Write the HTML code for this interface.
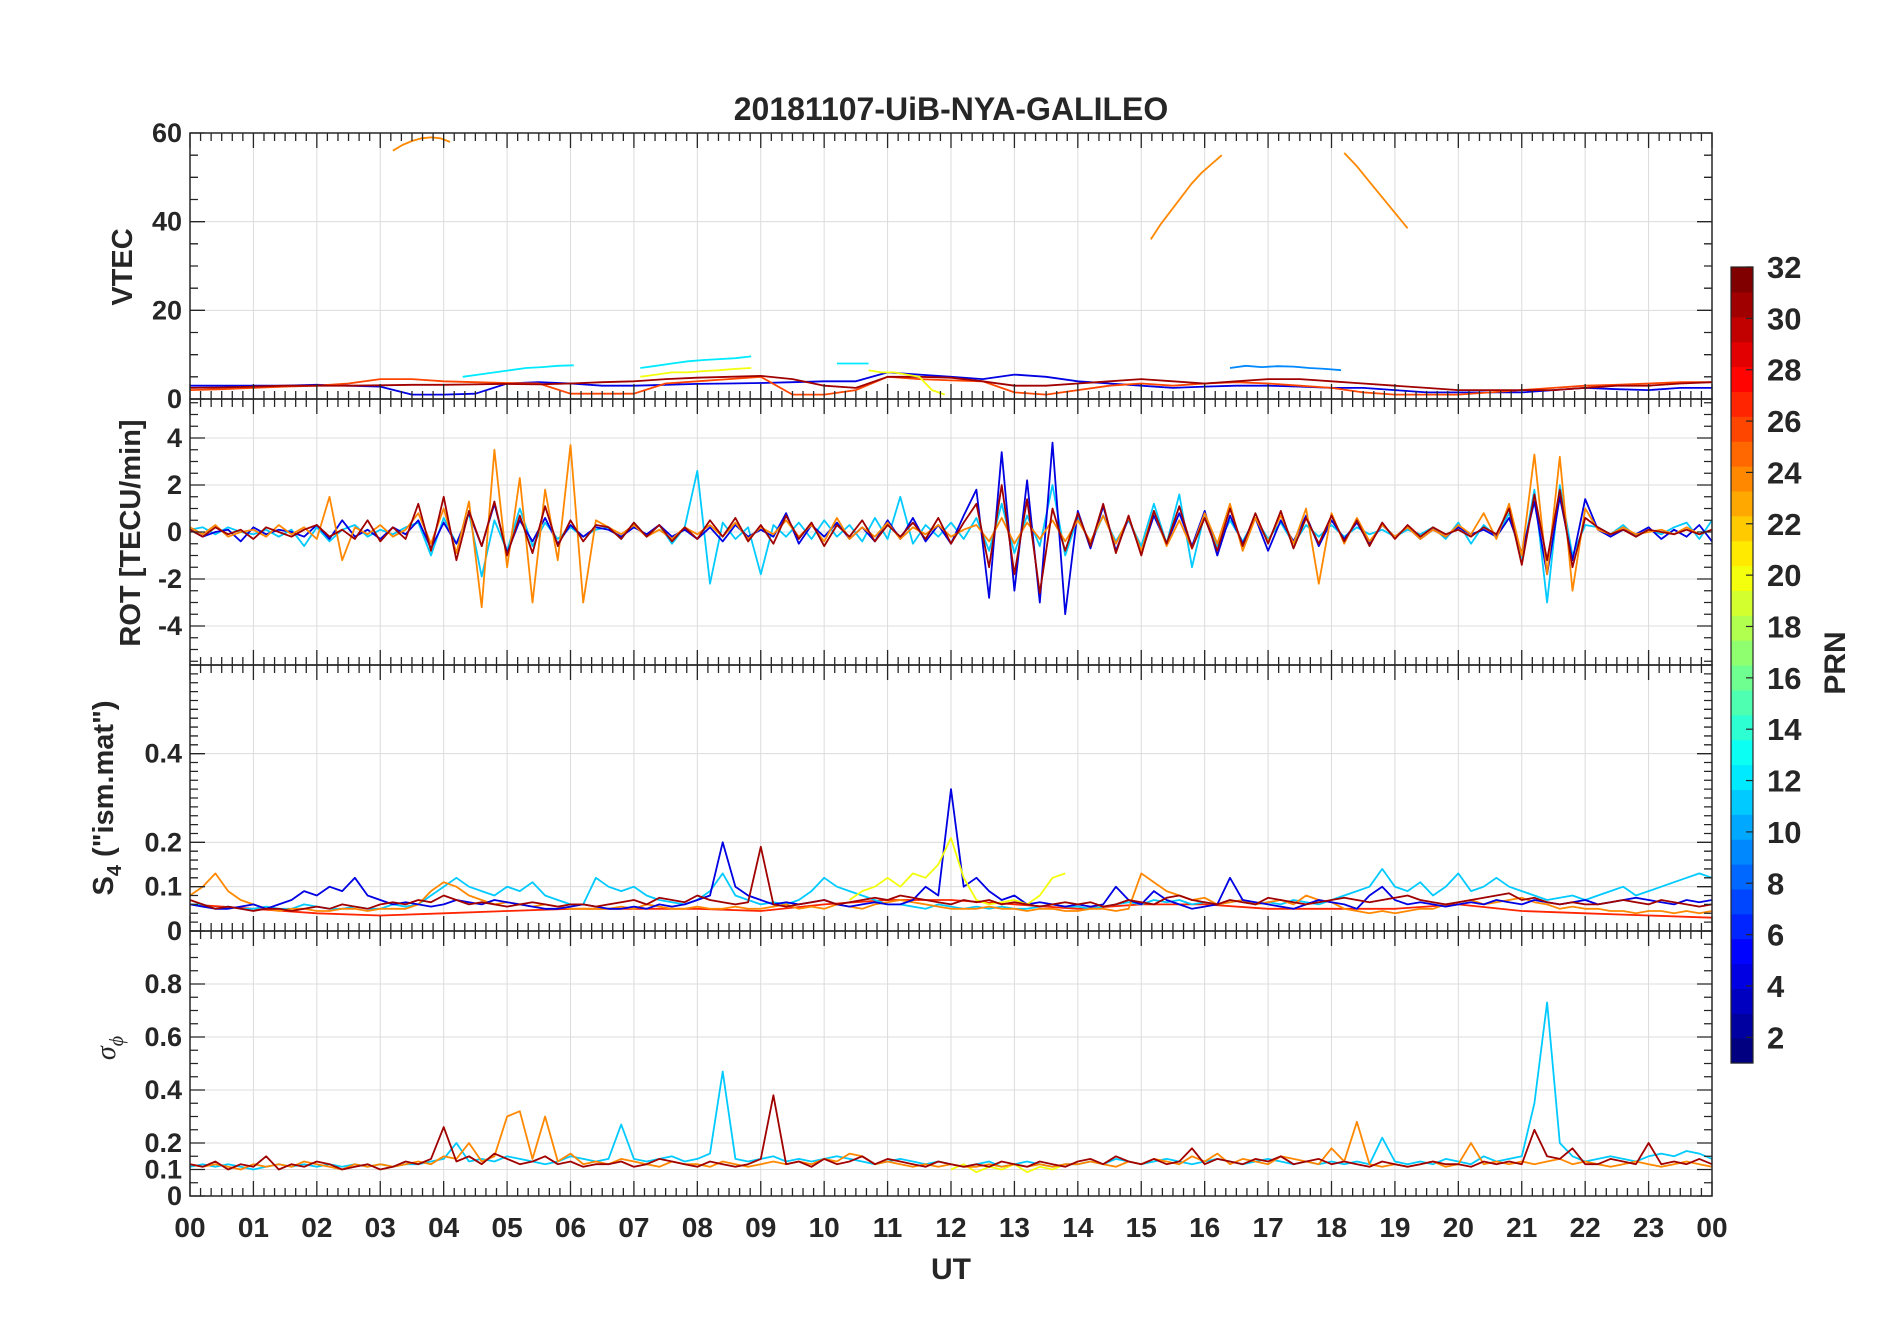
<!DOCTYPE html>
<html><head><meta charset="utf-8"><style>
html,body{margin:0;padding:0;background:#fff;}
svg text{font-family:"Liberation Sans",Arial,sans-serif;font-weight:bold;fill:#262626;}
</style></head><body>
<svg id="fig" xmlns="http://www.w3.org/2000/svg" width="1902" height="1330" viewBox="0 0 1902 1330">
<rect width="1902" height="1330" fill="#fff"/>
<text x="951" y="120" font-size="32" text-anchor="middle">20181107-UiB-NYA-GALILEO</text>
<g id="panels"></g>
<text x="951" y="1279" font-size="30" text-anchor="middle">UT</text>
<text transform="translate(132,267) rotate(-90)" font-size="29" text-anchor="middle">VTEC</text>
<text transform="translate(140,533) rotate(-90)" font-size="29" text-anchor="middle">ROT [TECU/min]</text>
<text transform="translate(113,798) rotate(-90)" font-size="29" text-anchor="middle">S<tspan font-size="20" dy="8">4</tspan><tspan dy="-8"> ("ism.mat")</tspan></text>
<text transform="translate(115,1048) rotate(-90)" font-size="28" font-style="italic" font-weight="normal" text-anchor="middle" style="font-family:'Liberation Serif',serif;font-weight:normal">σ<tspan font-size="20" dy="8">ϕ</tspan></text>
<g id="cbar"></g>
<text transform="translate(1845,663) rotate(-90)" font-size="30" text-anchor="middle">PRN</text>
</svg>
<script>
// ---------- data ----------
const hoursTicks = ["00","01","02","03","04","05","06","07","08","09","10","11","12","13","14","15","16","17","18","19","20","21","22","23","00"];
const prnTicks = [2,4,6,8,10,12,14,16,18,20,22,24,26,28,30,32];
// VTEC
const vtecArc1 = [56,57.3,58.2,58.8,59,58.8,58];
const vtecArc2 = [36,39.5,42.5,45.5,48.5,51,53,55];
const vtecArc3 = [55.5,52.5,49,45.5,42,38.5];
const vtecDarkRed = [2.5,2.6,2.8,3,3,3,3.1,3.2,3.2,3.3,3.4,3.3,3.5,3.8,4.0,4.5,4.8,5,5.2,4.5,3,2.5,5,5,4.8,4,3,3,3.5,4,4.5,4,3.5,4,4.5,4.5,4,3.5,3,2.5,2,2,2,2,2.5,3,3,3.5,3.8];
const vtecBlue = [3,3,3,3,3.2,3,2.8,1,1,1.2,3.5,3.8,3.5,3,3,3.2,3.4,3.5,3.6,3.8,4,4,6,5.5,5,4.5,5.5,5,4,3.5,3,2.5,2.8,3,3,2.8,2.5,2.5,2,1.5,1.5,1.5,1.5,2,2.5,2.2,2,2.5,2.5];
const vtecRed = [2,2.2,2.5,2.8,3,3.5,4.5,4.5,4,3.8,3.6,3.5,1.2,1.2,1.2,3.5,4,4.5,5,1,1,2,5,4.5,4.2,4,1.5,1,2,3,3.5,3,3.5,3.8,3.5,3,2.5,1.5,1,1,1,1.5,2,2.5,3,3.2,3.5,3.8,3.8];
const vtecCyanA = [5,5.5,6,6.5,7,7.2,7.5,7.6];
const vtecCyanB = [7,7.5,8,8.5,8.8,9,9.2,9.6];
const vtecCyanC = [8,8,8];
const vtecAzure = [7,7.5,7.2,7.4,7.3,7,6.8,6.5];
const vtecYellowA = [5,5.5,6,6,6.3,6.5,6.8,7];
const vtecYellowB = [6.5,6,6,5.5,5,2,1];
// ROT (step 0.2 h)
const rotDarkRed = [0.1,-0.2,0.2,-0.1,0.1,-0.3,0.2,0,-0.2,0.1,0.3,-0.2,0.1,-0.3,0.5,-0.4,0.2,-0.3,
1.2,-0.8,1.5,-1.2,0.9,-0.6,1.3,-1.0,0.7,-0.9,1.1,-0.6,0.5,-0.4,0.3,
0.2,-0.3,0.4,-0.2,0.3,-0.4,0.2,-0.3,0.5,-0.2,0.6,-0.4,0.3,-0.5,0.7,-0.3,0.4,-0.6,0.3,-0.2,0.5,-0.4,0.3,-0.2,0.4,-0.3,0.6,-0.5,0.4,
1.2,-1.5,2.0,-1.8,1.4,-2.6,1.0,-0.8,
0.8,-0.6,1.2,-0.9,0.7,-1.0,0.9,-0.5,1.1,-0.7,0.6,-0.8,1.0,-0.6,0.8,-0.5,0.9,-0.7,0.6,-0.5,0.7,-0.4,0.5,-0.6,0.4,-0.3,0.3,-0.2,0.2,-0.1,0.1,-0.2,0.2,-0.1,
1.0,-1.4,1.6,-1.2,1.8,-1.5,0.6,
0.2,-0.1,0.1,-0.2,0.1,0,-0.1,0.1,-0.1,0.1];
const rotOrange = [0.2,-0.1,0.3,-0.2,0,0.1,-0.2,0.3,-0.1,0.2,-0.3,1.5,-1.2,0.2,-0.1,0.3,-0.2,0.1,
0.8,-0.5,1.0,-0.9,1.3,-3.2,3.5,-1.5,2.3,-3.0,1.8,-1.2,3.7,-3.0,0.5,
0.2,-0.1,0.3,-0.2,0.1,-0.3,0.2,-0.1,0.3,-0.2,0.4,-0.3,0.2,-0.1,0.5,-0.2,0.3,-0.4,0.6,-0.3,0.2,-0.2,0.4,-0.3,0.2,-0.1,0.3,-0.2,0.1,
0.3,-0.4,0.6,-0.5,0.4,-0.3,0.5,-0.4,
0.5,-0.4,0.7,-0.5,0.6,-0.8,0.9,-0.6,0.5,-0.7,0.8,-0.5,1.2,-0.8,0.6,-0.4,0.7,-0.5,1.0,-2.2,0.8,-0.5,0.6,-0.4,0.3,-0.2,0.2,-0.3,0.1,-0.2,0.3,-0.1,0.8,-0.3,
1.2,-1.0,3.3,-1.8,3.2,-2.5,1.0,
0.1,-0.1,0.2,-0.1,0,0.1,-0.1,0.2,-0.1,0.1];
const rotBlue = [0.1,-0.2,0,0.1,-0.4,0.2,-0.1,0.1,0,-0.2,0.3,-0.3,0.5,-0.2,0.1,-0.3,0.2,-0.1,
0.5,-0.7,0.4,-0.5,0.8,-0.6,1.2,-0.9,0.5,-0.4,0.6,-0.5,0.3,-0.2,0.2,
0.1,-0.2,0.2,-0.1,0.3,-0.2,0.1,-0.3,0.2,-0.4,0.3,-0.2,0.1,-0.2,0.8,-0.5,0.3,-0.2,0.4,-0.3,0.2,-0.4,0.5,-0.3,0.6,-0.4,0.3,-0.5,0.7,
1.8,-2.8,3.4,-2.5,2.2,-3.0,3.8,-3.5,
0.9,-0.7,1.1,-0.8,0.6,-0.9,0.7,-0.5,0.8,-0.6,0.9,-1.0,0.7,-0.5,0.6,-0.8,0.5,-0.4,0.7,-0.6,0.5,-0.3,0.4,-0.5,0.3,-0.2,0.2,-0.3,0.1,-0.2,0.2,-0.1,0.1,-0.2,
0.6,-0.9,1.3,-1.8,1.5,-1.2,1.4,
0.1,-0.2,0.1,-0.1,0.2,-0.3,0.1,-0.2,0.3,-0.4];
const rotCyan = [0.1,0.2,-0.1,0.2,0,-0.1,0.1,-0.2,0.1,-0.6,0.2,-0.4,0.1,0.3,-0.2,0.1,-0.1,0.2,
0.4,-1.0,0.6,-0.5,0.8,-1.9,0.5,-0.8,1.0,-0.6,0.4,-0.3,0.2,-0.2,0.1,
0.2,-0.3,0.4,-0.2,0.3,-0.5,0.2,2.6,-2.2,0.4,-0.3,0.2,-1.8,0.3,-0.2,0.4,-0.3,0.5,-0.2,0.3,-0.4,0.6,-0.3,1.5,-0.5,0.3,-0.2,0.4,-0.3,
0.6,-0.8,1.2,-0.9,0.7,-0.6,2.0,-1.0,
0.6,-0.5,0.7,-0.4,0.5,-0.6,1.2,-0.5,1.6,-1.5,0.8,-0.6,0.5,-0.4,0.6,-0.3,0.4,-0.5,0.3,-0.2,0.3,-0.2,0.2,-0.1,0.1,-0.2,0.1,-0.1,0.2,-0.3,0.4,-0.5,0.3,-0.2,
0.8,-1.2,1.8,-3.0,2.0,-1.0,0.3,
0.2,-0.1,0.3,-0.2,0.1,-0.1,0.2,0.4,-0.3,0.5];
// S4
const s4Red = [0.06,0.05,0.04,0.035,0.04,0.045,0.05,0.05,0.05,0.045,0.06,0.07,0.07,0.06,0.05,0.06,0.06,0.05,0.05,0.05,0.06,0.045,0.04,0.035,0.03];
const s4DarkRed = [.07,.06,.05,.055,.05,.045,.05,.05,.045,.05,.055,.05,.06,.055,.05,.06,.065,.06,
.07,.065,.08,.07,.06,.065,.06,.055,.06,.065,.06,.055,.06,.06,.055,
.06,.065,.07,.06,.075,.07,.065,.08,.07,.065,.06,.065,.19,.06,.055,.06,.065,.07,.06,.065,.07,.075,.07,.08,.075,.07,.065,.06,.07,
.065,.07,.06,.065,.06,.055,.06,.065,
.06,.065,.055,.06,.07,.065,.06,.075,.08,.07,.065,.06,.07,.065,.06,.075,.07,.065,.06,.065,.07,.075,.07,.065,.07,.075,.08,.07,.065,.06,.065,.07,.075,.08,
.085,.07,.075,.065,.06,.065,.06,
.06,.065,.07,.065,.06,.07,.065,.06,.055,.06];
const s4Orange = [.08,.10,.13,.09,.07,.06,.05,.045,.05,.05,.045,.045,.05,.05,.045,.05,.05,.05,
.06,.09,.11,.10,.08,.07,.06,.065,.06,.055,.06,.055,.05,.05,.05,
.05,.055,.05,.06,.055,.05,.05,.055,.05,.05,.055,.05,.05,.055,.06,.05,.055,.05,.06,.055,.05,.06,.065,.07,.065,.06,.055,.05,.05,
.05,.055,.05,.05,.045,.05,.05,.045,
.045,.05,.05,.045,.05,.13,.11,.09,.08,.07,.075,.06,.065,.07,.06,.065,.07,.06,.08,.07,.065,.05,.045,.04,.045,.04,.045,.05,.05,.06,.065,.07,.06,.065,
.07,.075,.065,.06,.05,.055,.05,
.05,.045,.045,.04,.045,.045,.04,.045,.04,.045];
const s4Blue = [.06,.055,.05,.05,.055,.06,.05,.06,.07,.09,.08,.1,.09,.12,.08,.07,.06,.065,
.06,.055,.06,.07,.065,.06,.07,.065,.06,.055,.05,.05,.055,.06,.055,
.05,.05,.055,.05,.06,.055,.06,.07,.08,.2,.1,.08,.07,.06,.065,.06,.065,.07,.06,.055,.06,.065,.06,.06,.07,.1,.08,.32,.1,
.12,.09,.07,.08,.06,.065,.06,.055,
.06,.055,.06,.1,.07,.06,.09,.07,.06,.05,.055,.06,.12,.07,.065,.06,.055,.05,.06,.07,.065,.06,.05,.08,.1,.07,.06,.065,.06,.055,.06,.065,.06,.07,
.065,.06,.07,.065,.06,.065,.07,
.06,.065,.07,.075,.07,.065,.06,.07,.065,.07];
const s4Cyan = [.06,.06,.05,.055,.05,.05,.055,.05,.05,.06,.055,.05,.05,.055,.05,.05,.06,.055,
.06,.08,.1,.12,.1,.09,.08,.1,.09,.11,.08,.07,.06,.06,.12,
.1,.09,.1,.08,.07,.065,.06,.07,.09,.13,.08,.07,.06,.065,.06,.07,.09,.12,.1,.09,.08,.07,.06,.06,.055,.05,.06,.055,.05,
.055,.05,.055,.05,.05,.055,.06,.055,
.055,.05,.055,.06,.065,.06,.07,.065,.07,.06,.065,.06,.065,.07,.06,.065,.06,.07,.065,.06,.07,.08,.09,.1,.14,.1,.09,.11,.08,.1,.13,.09,.1,.12,
.1,.09,.08,.07,.075,.08,.07,
.08,.09,.1,.08,.09,.1,.11,.12,.13,.12];
const s4Yellow = [.07,.09,.1,.12,.1,.13,.12,.15,.21,.12,.07,.06,.065,.07,.06,.08,.12,.13];
// sigma phi
const sigDarkRed = [.12,.11,.13,.1,.12,.11,.15,.1,.12,.11,.13,.12,.1,.11,.12,.1,.11,.13,
.12,.14,.26,.13,.15,.12,.16,.14,.12,.13,.15,.12,.13,.11,.12,
.12,.13,.11,.12,.14,.13,.12,.11,.13,.12,.11,.12,.14,.38,.12,.13,.11,.14,.12,.13,.15,.12,.14,.13,.12,.11,.13,.12,.11,
.12,.11,.13,.12,.11,.13,.12,.11,
.13,.14,.12,.15,.13,.12,.14,.12,.13,.18,.12,.14,.13,.12,.14,.13,.15,.12,.13,.14,.12,.13,.12,.11,.13,.12,.11,.12,.13,.12,.12,.11,.13,.12,
.13,.12,.25,.15,.14,.18,.12,
.12,.14,.13,.12,.2,.12,.13,.12,.14,.12];
const sigOrange = [.12,.11,.12,.11,.1,.12,.11,.12,.11,.13,.12,.11,.1,.12,.11,.12,.11,.12,
.13,.12,.15,.14,.2,.13,.15,.3,.32,.14,.3,.13,.16,.12,.13,
.12,.14,.13,.12,.11,.13,.12,.12,.11,.13,.12,.11,.12,.13,.12,.13,.12,.14,.13,.16,.15,.12,.13,.12,.11,.12,.11,.12,.11,
.11,.12,.11,.12,.11,.12,.11,.12,
.12,.13,.12,.11,.13,.12,.14,.13,.12,.15,.13,.16,.12,.14,.13,.12,.15,.14,.13,.12,.18,.13,.28,.12,.11,.12,.11,.12,.13,.11,.12,.2,.12,.13,
.12,.13,.12,.13,.14,.12,.13,
.12,.11,.12,.13,.12,.11,.12,.13,.12,.11];
const sigCyan = [.11,.12,.11,.12,.11,.1,.11,.12,.11,.12,.11,.12,.11,.12,.11,.12,.11,.12,
.12,.13,.14,.2,.13,.14,.13,.15,.14,.13,.12,.13,.15,.14,.13,
.14,.27,.14,.13,.14,.15,.13,.14,.16,.47,.14,.13,.14,.15,.13,.14,.13,.14,.15,.14,.13,.12,.13,.14,.13,.12,.13,.12,.11,
.12,.13,.11,.12,.13,.12,.11,.12,
.12,.13,.12,.14,.13,.12,.13,.14,.13,.12,.13,.14,.13,.12,.13,.14,.13,.12,.13,.12,.13,.12,.13,.12,.22,.13,.12,.13,.12,.14,.13,.12,.15,.13,
.14,.15,.35,.73,.2,.15,.13,
.14,.15,.14,.13,.15,.16,.15,.17,.16,.14];
const sigYellow = [.1,.12,.09,.11,.1,.12,.09,.11,.1,.12];

// ---------- layout ----------
const L=190, R=1712;
const panels=[
 {name:'vtec',top:133,bot:399,min:0,max:60,ticks:[0,20,40,60],labels:['0','20','40','60'],minor:5},
 {name:'rot',top:399,bot:665,min:-5.66,max:5.66,ticks:[-4,-2,0,2,4],labels:['-4','-2','0','2','4'],minor:0.5},
 {name:'s4',top:665,bot:931,min:0,max:0.6,ticks:[0,0.1,0.2,0.4],labels:['0','0.1','0.2','0.4'],minor:0.02},
 {name:'sigma',top:931,bot:1196,min:0,max:1,ticks:[0,0.1,0.2,0.4,0.6,0.8],labels:['0','0.1','0.2','0.4','0.6','0.8'],minor:0.05}
];
const NS='http://www.w3.org/2000/svg';
const root=document.getElementById('panels');
function mk(tag,attrs,parent){const e=document.createElementNS(NS,tag);for(const k in attrs)e.setAttribute(k,attrs[k]);(parent||root).appendChild(e);return e;}
const xs=h=>L+(R-L)*h/24;
function jet(prn){const t=(prn-1)/31;const c=v=>Math.round(255*Math.max(0,Math.min(1,v)));
 return `rgb(${c(1.5-Math.abs(4*t-3))},${c(1.5-Math.abs(4*t-2))},${c(1.5-Math.abs(4*t-1))})`;}

panels.forEach(p=>{
 const ys=v=>p.bot-(p.bot-p.top)*(v-p.min)/(p.max-p.min);
 p.ys=ys;
 const g=mk('g',{});
 
 
 p.g=g;
 for(let h=1;h<24;h++){const ln=mk('line',{x1:xs(h),x2:xs(h),y1:p.top,y2:p.bot,stroke:'#dcdcdc','stroke-width':1},g);
  }
 p.ticks.forEach(v=>{if(v>p.min&&v<p.max){const ln=mk('line',{x1:L,x2:R,y1:ys(v),y2:ys(v),stroke:'#dcdcdc','stroke-width':1},g);
  }});
});

function drawSeries(p,vals,start,step,prn,name){
 const pts=vals.map((v,i)=>xs(start+i*step).toFixed(1)+','+p.ys(v).toFixed(1)).join(' ');
 const pl=mk('polyline',{points:pts,fill:'none',stroke:jet(prn),'stroke-width':1.8,'stroke-linejoin':'round'},p.g);
 
 
}
const [P1,P2,P3,P4]=panels;
drawSeries(P1,vtecBlue,0,0.5,4,'vtec-prn4');
drawSeries(P1,vtecRed,0,0.5,26,'vtec-prn26');
drawSeries(P1,vtecDarkRed,0,0.5,31,'vtec-prn31');
drawSeries(P1,vtecCyanA,4.3,0.25,12,'vtec-prn12-a');
drawSeries(P1,vtecCyanB,7.1,0.25,12,'vtec-prn12-b');
drawSeries(P1,vtecCyanC,10.2,0.25,12,'vtec-prn12-c');
drawSeries(P1,vtecAzure,16.4,0.25,9,'vtec-prn9');
drawSeries(P1,vtecYellowA,7.1,0.25,20,'vtec-prn20-a');
drawSeries(P1,vtecYellowB,10.7,0.2,20,'vtec-prn20-b');
drawSeries(P1,vtecArc1,3.2,0.15,24,'vtec-prn24-arc1');
drawSeries(P1,vtecArc2,15.15,0.16,24,'vtec-prn24-arc2');
drawSeries(P1,vtecArc3,18.2,0.2,24,'vtec-prn24-arc3');

drawSeries(P2,rotCyan,0,0.2,11,'rot-prn11');
drawSeries(P2,rotBlue,0,0.2,4,'rot-prn4');
drawSeries(P2,rotOrange,0,0.2,24,'rot-prn24');
drawSeries(P2,rotDarkRed,0,0.2,31,'rot-prn31');

drawSeries(P3,s4Red,0,1,27,'s4-prn27');
drawSeries(P3,s4Cyan,0,0.2,11,'s4-prn11');
drawSeries(P3,s4Orange,0,0.2,24,'s4-prn24');
drawSeries(P3,s4Blue,0,0.2,4,'s4-prn4');
drawSeries(P3,s4Yellow,10.4,0.2,20,'s4-prn20');
drawSeries(P3,s4DarkRed,0,0.2,31,'s4-prn31');

drawSeries(P4,sigCyan,0,0.2,11,'sigma-prn11');
drawSeries(P4,sigYellow,12,0.2,20,'sigma-prn20');
drawSeries(P4,sigOrange,0,0.2,24,'sigma-prn24');
drawSeries(P4,sigDarkRed,0,0.2,31,'sigma-prn31');

panels.forEach(p=>{
 const g=p.g, ys=p.ys;
 const box=mk('rect',{x:L,y:p.top,width:R-L,height:p.bot-p.top,fill:'none',stroke:'#262626','stroke-width':1.5},g);
 
 let d='';
 for(let m=0;m<=144;m++){const x=xs(m/6);const len=(m%6===0)?15:8;
  d+=`M${x},${p.bot}v${-len}M${x},${p.top}v${len}`;}
 for(let k=Math.ceil(p.min/p.minor);k*p.minor<=p.max+1e-9;k++){const v=k*p.minor;const major=p.ticks.some(t=>Math.abs(t-v)<1e-9);
  const len=major?15:8;const y=ys(v);d+=`M${L},${y}h${len}M${R},${y}h${-len}`;}
 const tk=mk('path',{d:d,stroke:'#262626','stroke-width':1.3,fill:'none'},g);
 
 p.ticks.forEach((v,i)=>{const t=mk('text',{x:L-8,y:ys(v)+9,'font-size':27,'text-anchor':'end'},g);t.textContent=p.labels[i];
  });
});
hoursTicks.forEach((lab,i)=>{const t=mk('text',{x:xs(i),y:1237,'font-size':28,'text-anchor':'middle'});t.textContent=lab;
 });

const cb=document.getElementById('cbar');
const CX=1731,CW=22,CT=267,CB=1063;
const cy=v=>CB-(CB-CT)*(v-1)/31;
for(let i=0;i<32;i++){const r=mk('rect',{x:CX,y:CT+(CB-CT)*(31-i)/32,width:CW,height:(CB-CT)/32+0.6,fill:jet(i+1)},cb);
 }
const cbox=mk('rect',{x:CX,y:CT,width:CW,height:CB-CT,fill:'none',stroke:'#262626','stroke-width':1.2},cb);

prnTicks.forEach(v=>{const y=cy(v);
 const ln=mk('line',{x1:CX+CW-7,x2:CX+CW,y1:y,y2:y,stroke:'#262626','stroke-width':1.2},cb);
 
 const t=mk('text',{x:CX+CW+14,y:y+11,'font-size':31},cb);t.textContent=v;
 });
</script>
</body></html>
